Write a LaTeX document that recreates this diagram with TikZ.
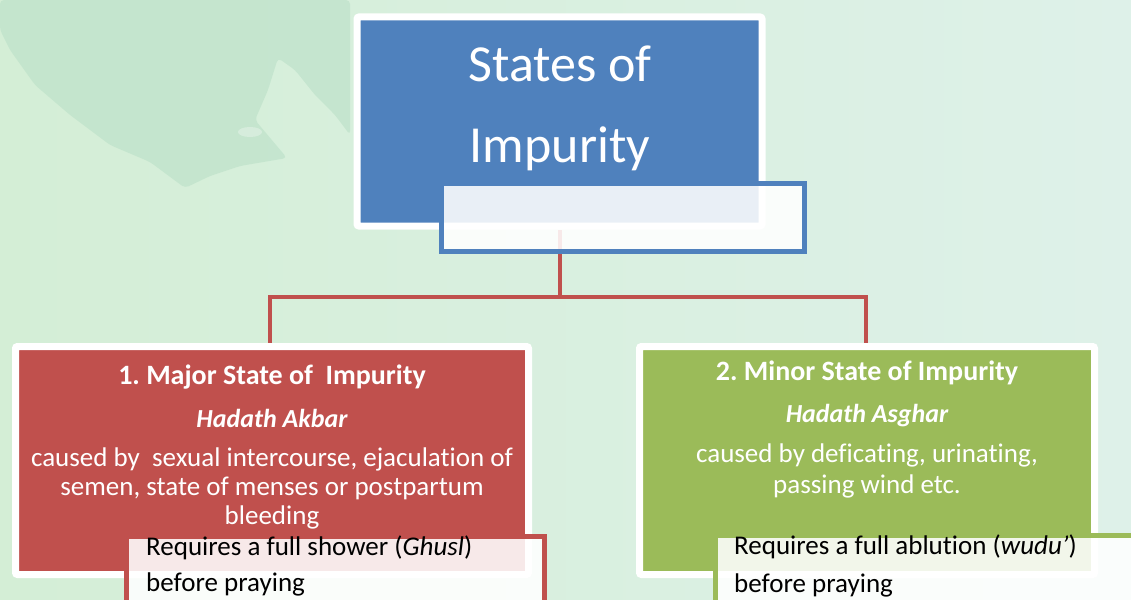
\documentclass[tikz,border=0pt]{standalone}
\usepackage{fontspec}
\setmainfont{Carlito}[Ligatures=NoCommon]
\usetikzlibrary{shadows}
\definecolor{boxblue}{RGB}{79,129,189}
\definecolor{boxred}{RGB}{192,80,77}
\definecolor{boxgreen}{RGB}{155,187,89}
\definecolor{bgleft}{RGB}{212,238,214}
\definecolor{bgright}{RGB}{222,241,233}
\definecolor{leaf}{RGB}{190,226,202}
\frenchspacing

\begin{document}
\begin{tikzpicture}[x=1pt, y=-1pt,
        card/.style={rectangle, draw=white, line width=7pt, rounded corners=2pt, inner sep=0pt,
            drop shadow={shadow xshift=2pt, shadow yshift=-3pt, opacity=0.25}},
        note/.style={rectangle, line width=5pt, fill=white, fill opacity=0.88, text opacity=1,
            inner sep=0pt, anchor=north west},
        txt/.style={text=white, align=center, inner sep=0pt},
        notetxt/.style={text=black, align=left, inner sep=0pt, anchor=north west},
        link/.style={draw=boxred, line width=4pt}]
        \useasboundingbox (0,0) rectangle (1131,599);
        \clip (0,0) rectangle (1131,599);
        \shade[left color=bgleft, right color=bgright] (0,0) rectangle (1131,599);
        \fill[leaf, opacity=0.7, rounded corners=4pt] (0,0) -- (350,0) -- (350,135) -- (335,115) -- (315,95)
            -- (295,70) -- (278,58) -- (268,90) -- (255,120) -- (287,158) -- (240,166) -- (210,176)
            -- (185,188) -- (150,162) -- (110,145) -- (70,115) -- (35,85) -- (10,50) -- (0,30) -- cycle;
        \fill[white, opacity=0.3] (250,132) ellipse (12pt and 5pt);

        \coordinate (fork) at (560,297);
        \draw[link] (560,230) -- (fork);
        \draw[link] (270,345) |- (fork) -| (866,345);

        \node[card, fill=boxblue, minimum width=405pt, minimum height=209pt] (top) at (559.5,121.5) {};
        \node[txt, anchor=north, font=\fontsize{52}{81}\selectfont] (title) at (560,46) {States of\\Impurity};
        \node[note, draw=boxblue, minimum width=363pt, minimum height=68pt] (topnote) at (438.5,180.5) {};

        \node[card, fill=boxred, minimum width=513pt, minimum height=228pt] (major) at (272,460.5) {};
        \node[txt, anchor=base, font=\fontsize{28}{34}\selectfont\bfseries] (majorhead) at (272,384) {1. Major State of\ \ Impurity};
        \node[txt, anchor=base, font=\fontsize{26}{30}\selectfont\bfseries\itshape] (majorname) at (272,427) {Hadath Akbar};
        \node[txt, anchor=north, font=\fontsize{27}{29}\selectfont] (majorbody) at (272,448) {caused by\ \ sexual intercourse, ejaculation of\\semen, state of menses or postpartum\\bleeding};
        \node[note, draw=boxred, minimum width=418pt, minimum height=110pt] (majornote) at (123.5,533.5) {};
        \node[notetxt, font=\fontsize{27}{36}\selectfont] (majorreq) at (146,536) {Requires a full shower (\textit{Ghusl})\\before praying};

        \node[card, fill=boxgreen, minimum width=455pt, minimum height=228pt] (minor) at (867,460.5) {};
        \node[txt, anchor=base, font=\fontsize{28}{34}\selectfont\bfseries] (minorhead) at (867,380) {2. Minor State of Impurity};
        \node[txt, anchor=base, font=\fontsize{26}{30}\selectfont\bfseries\itshape] (minorname) at (867,422) {Hadath Asghar};
        \node[txt, anchor=north, font=\fontsize{27}{31}\selectfont] (minorbody) at (867,444) {caused by deficating, urinating,\\passing wind etc.};
        \node[note, draw=boxgreen, minimum width=500pt, minimum height=110pt] (minornote) at (712.5,532.5) {};
        \node[notetxt, font=\fontsize{27}{38}\selectfont] (minorreq) at (734,535) {Requires a full ablution (\textit{wudu’})\\before praying};
    \end{tikzpicture}
\end{document}
